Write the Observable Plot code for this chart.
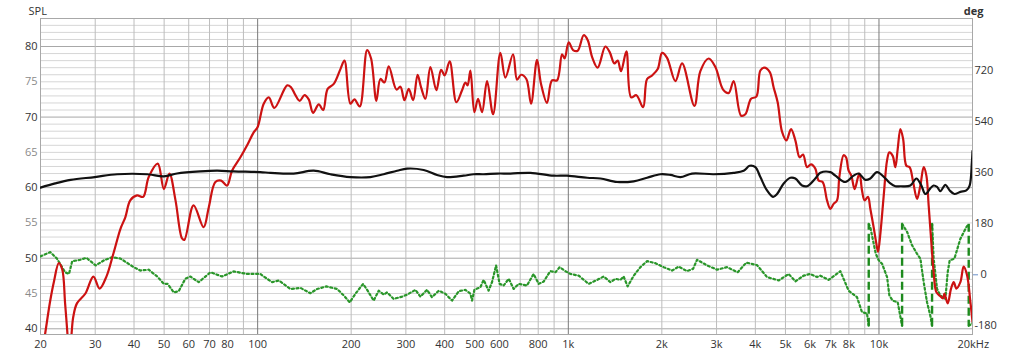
<!DOCTYPE html>
<html><head><meta charset="utf-8">
<script src="https://cdn.jsdelivr.net/npm/d3@7"></script>
<script src="https://cdn.jsdelivr.net/npm/@observablehq/plot@0.6"></script>
<style>html,body{margin:0;padding:0;background:#fff;overflow:hidden}svg{display:block}</style>
</head><body><div id="chart"></div>
<script>
// ---- data ----
const splFreq = [20,20.7,21.5,22.1,22.9,23.5,24.0,24.5,24.8,25.2,25.5,26.2,27.9,29.6,31.0,32.6,34.3,36.2,37.5,38.9,40.9,42.8,44.6,47.7,49.9,52.0,54.4,57.1,58.1,62.2,67.0,69.6,73.1,76.3,79.7,82.7,88.0,92.5,97,100,104.6,108.6,113.2,124.5,128.2,132.3,136.6,141.5,146.0,150.8,157.3,162.5,168.0,175.8,184.7,190.3,198.9,204.9,213.1,225.1,231.8,241.1,248.4,255.9,264.2,279.7,288.1,296.8,306.4,316.6,327.2,335.8,346.7,359.8,376.1,389.5,400,415.1,436.2,455,466.3,474,484,498.5,512.3,527.7,547.6,572.6,604.3,627.1,664,684,704.5,732.7,758.7,793,817,854,886,920,954.6,973,1003,1036,1072,1121,1155,1193,1243,1316,1359,1407,1442,1478,1538,1593,1656,1741,1793,1861,1940,2004,2079,2211,2324,2546,2661,2830,2974,3149,3282,3406,3598,3714,3874,4030,4151,4276,4447,4581,4719,4877,5034,5211,5380,5554,5696,5867,6043,6239,6394,6586,6804,6973,7145,7327,7454,7695,7833,7985,8146,8348,8561,8664,8819,8990,9219,9378,9610,9804,9930,10104,10350,10620,10800,11070,11290,11490,11720,11960,12250,12550,12880,13260,13590,13930,14210,14450,14710,14990,15300,15680,16080,16240,16640,17060,17400,17750,18280,18730,19210,19680,20000];
const splValues = [35,39.3,44.0,46.7,49.3,48.4,43.6,38.5,35,39.5,41.7,43.6,45.0,47.4,45.7,47.4,50.6,54.2,55.8,58.2,58.9,58.7,61.5,63.4,59.8,62.0,58.2,52.8,52.6,57.5,54.4,57.2,60.8,61.0,60.3,62.4,64.3,66.0,67.8,68.6,71.9,72.8,71.3,74.5,74.2,73.1,72.3,73.1,72.5,70.6,71.8,71.0,74.0,74.7,76.8,78.0,71.9,72.5,71.5,79.5,78.3,72.3,75.4,74.9,77.2,73.9,74.3,72.4,74.0,72.4,76.0,74.2,72.6,77.1,73.8,76.7,75.9,77.9,72.1,73.8,74.9,74.5,76.6,70.7,72.6,70.7,75.1,70.4,79.1,75.6,78.9,75.3,76.0,75.4,71.9,78.1,74.7,72.0,75.2,75.2,78.9,78.3,80.6,79.5,79.4,81.6,80.9,78.5,77.0,80.0,79.2,77.6,78.0,76.5,79.3,72.8,73.1,71.4,75.4,75.9,76.8,79.1,78.4,75.1,77.6,71.6,76.5,78.3,77.1,73.9,73.4,75.1,70.2,70.4,72.6,72.9,76.6,77.0,76.4,74.2,72.1,67.9,66.7,68.3,66.7,64.3,64.7,62.9,63.3,62.7,61.0,60.8,58.2,57.0,57.7,58.2,61.5,64.6,64.3,62.4,61.7,59.8,61.5,62.0,59.6,58.2,58.7,57.0,54.4,52.1,50.9,53.5,58.7,63.9,65.0,64.5,62.9,65.5,68.3,66.9,63.1,62.9,60.8,58.4,60.3,62.9,61.7,57.5,52.8,48.1,45.2,44.7,44.3,45.0,43.6,45.7,46.6,45.7,46.6,48.8,47.6,43.9,41.0];

const refFreq = [20,22.3,25,29.9,35.3,44.1,49.9,55,65.4,74,83.7,102,110,130.6,151.5,171.5,198.9,230.6,254.5,281.1,302.8,342.3,378,407,460,496,534,590,651,755,897,991,1150,1269,1435,1624,1793,1979,2131,2295,2502,2937,3406,3668,3835,4000,4151,4362,4560,4698,4935,5184,5380,5654,5867,6239,6475,6973,7236,7792,8286,8600,9037,9378,9855,10490,10880,11290,11720,12620,13190,13660,14100,14630,14990,15380,15760,16360,16890,17490,18280,19110,19580,19900,20000];
const refValues = [60.0,60.6,61.1,61.5,61.9,61.9,61.6,62.0,62.3,62.4,62.3,62.2,62.1,62.0,62.4,61.9,61.5,61.5,61.9,62.4,62.7,62.5,61.8,61.5,61.7,61.9,61.9,62.0,62.0,62.1,61.7,61.7,61.4,61.3,60.8,60.9,61.4,61.9,61.8,61.5,62.0,61.9,62.1,62.4,63.1,62.9,61.5,59.6,58.7,59.1,60.6,61.4,61.3,60.3,60.2,61.3,62.1,62.2,61.7,60.8,61.7,62.0,61.1,61.3,62.2,61.3,60.6,60.2,60.2,60.3,61.3,60.4,59.1,59.9,60.3,60.1,59.5,60.4,59.6,59.1,59.4,59.6,60.3,63.5,65.2];

const phaseFreq = [20,21.5,22.6,24.0,24.7,25.3,26.9,28.1,30.1,32.0,
  34.0,36.2,39.9,41.9,44.6,47.5,49.9,51.3,53.7,55.7,
  58.5,60.7,64.6,70.5,76.8,83.7,92.5,102,104.6,111.4,
  117,127.5,137.3,147.8,155.4,166.5,180.3,189.3,197.9,206.4,
  218.5,226,236.3,245.3,254.5,261,274,291.7,302.8,322,
  334,351,364,383,402,422.5,444,466,484,490,
  498.5,521,534,554,568,585.5,601,619,643,667,
  692,736,773,803,833,875,909,938,978,1016,
  1080,1163,1238,1300,1366,1418,1471,1507,1552,1624,
  1706,1793,1907,2027,2158,2266,2411,2521,2597,2797,
  3012,3244,3508,3742,4050,4362,4755,5120,5380,5721,
  6012,6318,6475,6886,7509,7985,8497,8819,9148,9268,
  9270,9378,9768,9980,10230,10620,10800,11070,11490,11868,
  11870,12320,12780,13260,13590,13930,14280,14630,14820,14822,
  14990,15380,15760,16360,16640,16890,17490,18280,19110,19446,
  19448,19900,20000];
const phaseDeg = [65,80,57,9,3,48,53,60,33,51,
  62,57,27,15,18,-6,-32,-32,-62,-58,
  -14,-6,-26,9,-6,12,3,3,-6,-26,
  -20,-50,-46,-65,-50,-41,-50,-73,-97,-67,
  -32,-56,-91,-56,-70,-62,-85,-77,-70,-53,
  -77,-53,-79,-56,-67,-91,-58,-53,-67,-91,
  -53,-44,-18,-56,-26,33,-32,-38,-14,-50,
  -32,-38,3,-32,-24,13,9,27,13,3,
  -3,-32,-18,-6,-26,-14,-18,-6,-41,-3,
  27,48,41,27,15,29,13,21,53,33,
  18,27,9,43,34,-8,-20,3,-23,-3,
  3,-8,-3,-18,13,-56,-79,-132,-136,-180,
  180,168,74,51,39,-8,-73,-91,-97,-180,
  180,151,104,74,57,-26,-97,-144,-180,180,
  60,-50,-73,-85,9,51,57,127,168,180,
  -180,-173,-170];

const xTicks = [20,30,40,50,60,70,80,100,200,300,400,500,600,800,1000,2000,3000,4000,5000,6000,7000,8000,10000];
const xTickLabels = ["20","30","40","50","60","70","80","100","200","300","400","500","600","800","1k","2k","3k","4k","5k","6k","7k","8k","10k"];
const xLastTick = [20000];
const xLastLabel = ["20kHz"];
const splMajorTicks = [40,50,60,70,80];
const splMinorTicks = [45,55,65,75];
const degTicks = [-180,180,360,540,720];
const degZeroTick = [0];

const gridMinorFreq = [30,40,50,60,70,80,90,200,300,400,500,600,700,800,900,2000,3000,4000,5000,6000,7000,8000,9000];
const gridMajorFreq = [100,1000,10000];

// ---- build ----
const degToSpl = d => 47.65 + d * 0.04017;
const red = splFreq.map((f,i)=>({f, v: splValues[i]}));
const black = refFreq.map((f,i)=>({f, v: refValues[i]}));
let seg = 0; const phase = []; const wraps = [];
phaseFreq.forEach((f,i)=>{
  if (i>0 && Math.abs(phaseDeg[i]-phaseDeg[i-1])>270) {
    wraps.push({f1: phaseFreq[i-1], d1: phaseDeg[i-1], f2: f, d2: phaseDeg[i]});
    seg++;
  }
  phase.push({f, v: degToSpl(phaseDeg[i]), seg});
});
const splGridAll = d3.range(40, 84);
const splGridMinor = splGridAll.filter(d => d % 10 !== 0);
const splGridMajor = splGridAll.filter(d => d % 10 === 0);
const textCol = "#333";
const xLabelRows = xTicks.map((f,i)=>({f, t: xTickLabels[i]}));
const xLastRows = xLastTick.map((f,i)=>({f, t: xLastLabel[i]}));

const chart = Plot.plot({
  width: 1024, height: 358,
  marginLeft: 40, marginRight: 52, marginTop: 18, marginBottom: 24,
  x: {type: "log", domain: [20, 20000], axis: null},
  y: {domain: [39.19, 83.97]},
  style: {fontFamily: "'Open Sans', sans-serif", fontSize: "11px", background: "#fff", color: textCol},
  marks: [
    Plot.ruleY(splGridMinor, {stroke: "#d6d6d6", strokeWidth: 1}),
    Plot.ruleY(splGridMajor, {stroke: "#a8a8a8", strokeWidth: 1}),
    Plot.ruleX(gridMinorFreq, {stroke: "#bdbdbd", strokeWidth: 1}),
    Plot.ruleX(gridMajorFreq, {stroke: "#7a7a7a", strokeWidth: 1}),
    Plot.frame({stroke: "#a8a8a8"}),
    Plot.line(phase, {x: "f", y: "v", z: "seg", stroke: "#2a962a", strokeWidth: 2.2, strokeDasharray: "2,2.6", clip: true}),
    Plot.link(wraps, {x1: "f1", y1: d => degToSpl(d.d1), x2: "f2", y2: d => degToSpl(d.d2), stroke: "#1d8a1d", strokeWidth: 2.4, strokeDasharray: "8,4"}),
    Plot.line(red, {x: "f", y: "v", stroke: "#cc1212", strokeWidth: 2.2, curve: "catmull-rom", clip: true}),
    Plot.line(black, {x: "f", y: "v", stroke: "#111", strokeWidth: 2.2, curve: "catmull-rom", clip: true}),
    Plot.text(xLabelRows, {x: "f", text: "t", frameAnchor: "bottom", dy: 13, fill: textCol, fontSize: 11}),
    Plot.text(xLastRows, {x: "f", text: "t", frameAnchor: "bottom", dy: 13, dx: -15, textAnchor: "start", fill: textCol, fontSize: 11}),
    Plot.axisY(splMajorTicks, {tickSize: 0, tickPadding: 3, fill: "#333", label: null}),
    Plot.axisY(splMinorTicks, {tickSize: 0, tickPadding: 3, fill: "#8a8a8a", label: null}),
    Plot.axisY(degTicks.map(degToSpl), {anchor: "right", tickSize: 0, tickPadding: 2, tickFormat: (d, i) => String(degTicks[i]), fill: textCol, label: null}),
    Plot.axisY(degZeroTick.map(degToSpl), {anchor: "right", tickSize: 5, tickPadding: 3, stroke: "#6a8fc8", tickFormat: (d, i) => String(degZeroTick[i]), fill: textCol, label: null}),
    Plot.text(["SPL"], {frameAnchor: "top-left", dx: -12, dy: -11, fill: textCol, fontSize: 11}),
    Plot.text(["deg"], {frameAnchor: "top-right", dx: 11, dy: -11, fill: textCol, fontSize: 11, fontWeight: "bold"})
  ]
});
document.getElementById("chart").appendChild(chart);
</script></body></html>
